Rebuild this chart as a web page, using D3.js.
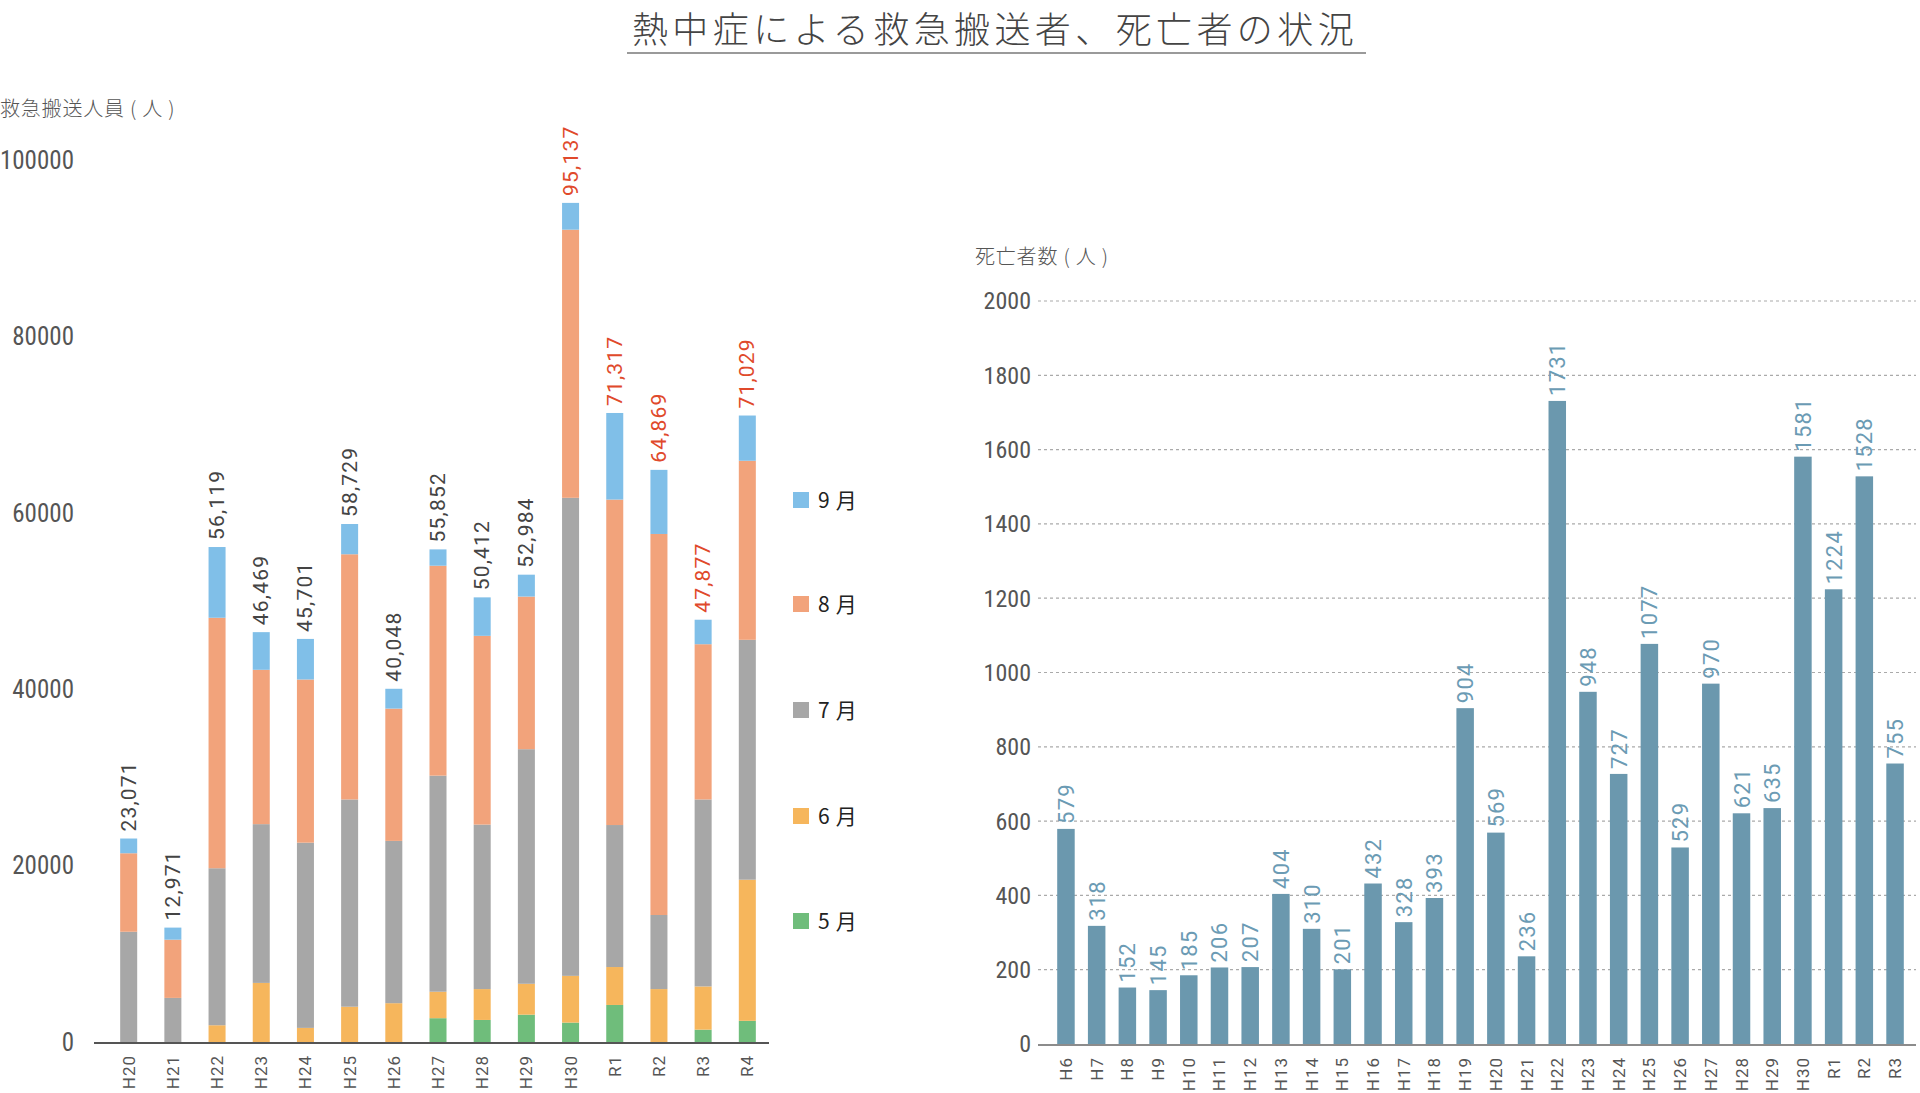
<!DOCTYPE html>
<html><head><meta charset="utf-8">
<script src="https://cdn.jsdelivr.net/npm/d3@7"></script>
<style>
html,body{margin:0;padding:0;background:#fff;}
svg{display:block;}
.cond{font-family:"Liberation Sans Narrow","Roboto Condensed","DejaVu Sans Condensed",Roboto,sans-serif;}
.num{font-family:Roboto,"Noto Sans",sans-serif;}
.jp{font-family:"Noto Sans CJK JP","Noto Sans",sans-serif;}
</style></head>
<body>
<svg id="c" width="1920" height="1093"></svg>
<script>
// ---- Data: heatstroke ambulance transports (left) ----
const years1 = ["H20","H21","H22","H23","H24","H25","H26","H27","H28","H29","H30","R1","R2","R3","R4"];
const may = [0,0,0,0,0,0,0,2700,2500,3100,2200,4200,0,1400,2400];
const jun = [0,0,1900,6700,1600,4000,4400,3000,3500,3500,5300,4300,6000,4900,16000];
const jul = [12500,5000,17800,18000,21000,23500,18400,24500,18650,26600,54200,16100,8400,21200,27200];
const aug = [8900,6600,28400,17500,18500,27800,15000,23800,21400,17300,30400,36900,43200,17600,20300];
const sep = [1671,1371,8019,4269,4601,3429,2248,1852,4362,2484,3037,9817,7269,2777,5129];
const totals = [23071,12971,56119,46469,45701,58729,40048,55852,50412,52984,95137,71317,64869,47877,71029];
const highlight = ["H30","R1","R2","R3","R4"];
const months = ["5月","6月","7月","8月","9月"];
const ticks1 = [0,20000,40000,60000,80000,100000];

// ---- Data: heatstroke deaths (right) ----
const years2 = ["H6","H7","H8","H9","H10","H11","H12","H13","H14","H15","H16","H17","H18","H19","H20","H21","H22","H23","H24","H25","H26","H27","H28","H29","H30","R1","R2","R3"];
const deaths = [579,318,152,145,185,206,207,404,310,201,432,328,393,904,569,236,1731,948,727,1077,529,970,621,635,1581,1224,1528,755];
const ticks2 = [0,200,400,600,800,1000,1200,1400,1600,1800,2000];

const svg = d3.select("#c");
const colors = {"5月":"#6fbd7b","6月":"#f6b65c","7月":"#a7a7a7","8月":"#f2a37b","9月":"#80bfe8"};

// Title
svg.append("text").attr("class","jp").attr("x",995).attr("y",43)
  .attr("text-anchor","middle").attr("font-size",36).attr("font-weight",300)
  .attr("letter-spacing",4.4).attr("fill","#444").text("熱中症による救急搬送者、死亡者の状況");
svg.append("line").attr("x1",627).attr("x2",1366).attr("y1",53).attr("y2",53)
  .attr("stroke","#9a9a9a").attr("stroke-width",2);

// ---------- Left chart ----------
const table = years1.map((y,i)=>({year:y,"5月":may[i],"6月":jun[i],"7月":jul[i],"8月":aug[i],"9月":sep[i],total:totals[i]}));
const x1 = d3.scaleBand().domain(years1).range([93,783]).paddingInner(0.615).paddingOuter(0.615);
const y1 = d3.scaleLinear().domain([0,100000]).range([1042,160]);
const stack = d3.stack().keys(months)(table);

const g1 = svg.append("g");
g1.selectAll("g.layer").data(stack).join("g").attr("fill",d=>colors[d.key])
  .selectAll("rect").data(d=>d).join("rect")
  .attr("x",d=>x1(d.data.year)).attr("width",x1.bandwidth())
  .attr("y",d=>y1(d[1])).attr("height",d=>Math.max(0,y1(d[0])-y1(d[1])));

// y ticks
g1.selectAll("text.yt").data(ticks1).join("text").attr("class","cond")
  .attr("x",74).attr("y",d=>y1(d)).attr("dy","0.35em").attr("text-anchor","end")
  .attr("font-size",25).attr("fill","#555").text(d=>d);
// axis line
g1.append("line").attr("x1",94).attr("x2",769).attr("y1",y1(0)+1).attr("y2",y1(0)+1)
  .attr("stroke","#555").attr("stroke-width",2);
// x labels
g1.selectAll("text.xl").data(years1).join("text").attr("class","num")
  .attr("transform",d=>`translate(${x1(d)+x1.bandwidth()/2+6},${y1(0)+13}) rotate(-90)`)
  .attr("text-anchor","end").attr("font-size",17).attr("letter-spacing",1).attr("fill","#555").text(d=>d);
// totals
const fmt = d3.format(",");
g1.selectAll("text.tot").data(table).join("text").attr("class","num")
  .attr("transform",d=>`translate(${x1(d.year)+x1.bandwidth()/2+7},${y1(d.total)-7}) rotate(-90)`)
  .attr("text-anchor","start").attr("font-size",21).attr("letter-spacing",1.2)
  .attr("fill",d=>highlight.includes(d.year)?"#e0492b":"#444").text(d=>fmt(d.total));
// y label
svg.append("text").attr("class","jp").attr("x",0).attr("y",116).attr("font-size",20)
  .attr("font-weight",300).attr("letter-spacing",0.8).attr("fill","#555").text("救急搬送人員 ( 人 )");

// legend
const legY = {"9月":500,"8月":604,"7月":710,"6月":816,"5月":921};
const leg = svg.append("g").selectAll("g").data(months.slice().reverse()).join("g")
  .attr("transform",d=>`translate(793,${legY[d]})`);
leg.append("rect").attr("x",0).attr("y",-8).attr("width",16).attr("height",16).attr("fill",d=>colors[d]);
leg.append("text").attr("class","jp").attr("x",25).attr("y",0).attr("dy","0.36em")
  .attr("font-size",21).attr("letter-spacing",6).attr("fill","#222").text(d=>d);

// ---------- Right chart ----------
const x2 = d3.scaleBand().domain(years2).range([1044,1917]).paddingInner(0.43).paddingOuter(0.43);
const y2 = d3.scaleLinear().domain([0,2000]).range([1044,301]);
const g2 = svg.append("g");
g2.selectAll("line.grid").data(ticks2.filter(d=>d>0)).join("line")
  .attr("x1",1038).attr("x2",1916).attr("y1",d=>y2(d)).attr("y2",d=>y2(d))
  .attr("stroke","#aaa").attr("stroke-width",1.2).attr("stroke-dasharray","3,3");
g2.selectAll("text.yt").data(ticks2).join("text").attr("class","cond")
  .attr("x",1031).attr("y",d=>y2(d)).attr("dy","0.35em").attr("text-anchor","end")
  .attr("font-size",24).attr("fill","#555").text(d=>d);
g2.selectAll("rect").data(deaths).join("rect")
  .attr("x",(d,i)=>x2(years2[i])).attr("width",x2.bandwidth())
  .attr("y",d=>y2(d)).attr("height",d=>y2(0)-y2(d)).attr("fill","#6b98ae");
g2.append("line").attr("x1",1038).attr("x2",1916).attr("y1",y2(0)+1).attr("y2",y2(0)+1)
  .attr("stroke","#666").attr("stroke-width",1.5);
g2.selectAll("text.val").data(deaths).join("text").attr("class","num")
  .attr("transform",(d,i)=>`translate(${x2(years2[i])+x2.bandwidth()/2+8},${y2(d)-5}) rotate(-90)`)
  .attr("text-anchor","start").attr("font-size",22).attr("letter-spacing",1.2)
  .attr("fill","#6b9bb4").text(d=>d);
g2.selectAll("text.xl").data(years2).join("text").attr("class","num")
  .attr("transform",d=>`translate(${x2(d)+x2.bandwidth()/2+6},${y2(0)+13}) rotate(-90)`)
  .attr("text-anchor","end").attr("font-size",17).attr("letter-spacing",1).attr("fill","#555").text(d=>d);
svg.append("text").attr("class","jp").attr("x",975).attr("y",264).attr("font-size",20)
  .attr("font-weight",300).attr("letter-spacing",0.8).attr("fill","#555").text("死亡者数 ( 人 )");
</script>
</body></html>
